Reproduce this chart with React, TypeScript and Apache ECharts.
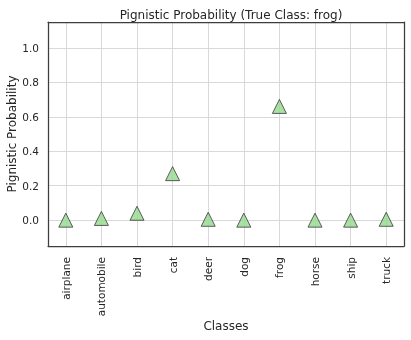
import React, { useEffect, useRef } from "react";
import * as echarts from "echarts";

const classes = ["airplane", "automobile", "bird", "cat", "deer", "dog", "frog", "horse", "ship", "truck"];
const probabilities = [0.0, 0.01, 0.04, 0.27, 0.005, 0.0, 0.66, 0.0, 0.0, 0.005];
const yTicks = [0.0, 0.2, 0.4, 0.6, 0.8, 1.0];
const xTicks = classes.map((_, i) => i);

export default function App() {
  const ref = useRef<HTMLDivElement>(null);
  useEffect(() => {
    if (!ref.current) return;
    const chart = echarts.init(ref.current, null, { renderer: "svg" });
    const font = "DejaVu Sans";
    const textColor = "#262626";
    const frame = { show: true, onZero: false, lineStyle: { color: "#3d3d3d", width: 1.25 } };
    const gridLine = { show: true, lineStyle: { color: "#d9d9d9", width: 1 } };
    chart.setOption({
      animation: false,
      textStyle: { fontFamily: font },
      title: {
        text: "Pignistic Probability (True Class: frog)",
        left: 226,
        top: 4,
        textAlign: "center",
        textStyle: { fontFamily: font, fontSize: 12, fontWeight: "normal", color: textColor },
      },
      grid: {
        left: 48,
        right: 7,
        top: 22,
        bottom: 94,
        show: false,
        containLabel: false,
        outerBoundsMode: "none",
      },
      xAxis: [
        {
          type: "value",
          min: -0.5,
          max: 9.5,
          position: "bottom",
          name: "Classes",
          nameLocation: "middle",
          nameGap: 74,
          nameMoveOverlap: false,
          nameTextStyle: { fontFamily: font, fontSize: 12, color: textColor, verticalAlign: "top" },
          axisLine: frame,
          axisTick: { show: false, customValues: xTicks },
          axisLabel: {
            customValues: xTicks,
            rotate: 90,
            margin: 11,
            fontFamily: font,
            fontSize: 10.5,
            color: textColor,
            formatter: (v: number) => classes[Math.round(v)] ?? "",
          },
          splitLine: gridLine,
          z: 1,
        },
        {
          type: "value",
          min: -0.5,
          max: 9.5,
          position: "top",
          axisLine: frame,
          axisTick: { show: false },
          axisLabel: { show: false },
          splitLine: { show: false },
          z: 3,
        },
      ],
      yAxis: [
        {
          type: "value",
          min: -0.15,
          max: 1.15,
          position: "left",
          name: "Pignistic Probability",
          nameLocation: "middle",
          nameGap: 30,
          nameMoveOverlap: false,
          nameTextStyle: { fontFamily: font, fontSize: 12, color: textColor },
          axisLine: frame,
          axisTick: { show: false, customValues: yTicks },
          axisLabel: {
            customValues: yTicks,
            margin: 9,
            fontFamily: font,
            fontSize: 10.5,
            color: textColor,
            formatter: (v: number) => v.toFixed(1),
          },
          splitLine: gridLine,
          z: 1,
        },
        {
          type: "value",
          min: -0.15,
          max: 1.15,
          position: "right",
          axisLine: frame,
          axisTick: { show: false },
          axisLabel: { show: false },
          splitLine: { show: false },
          z: 3,
        },
      ],
      series: [
        {
          type: "scatter",
          symbol: "triangle",
          symbolSize: [14, 14],
          xAxisIndex: 0,
          yAxisIndex: 0,
          data: probabilities.map((p, i) => [i, p]),
          itemStyle: { color: "#93d88c", borderColor: "#3a3a3a", borderWidth: 1 },
          z: 4,
        },
      ],
    });
    return () => chart.dispose();
  }, []);
  return <div ref={ref} style={{ position: "fixed", left: 0, top: 0, width: 411, height: 340 }} />;
}
